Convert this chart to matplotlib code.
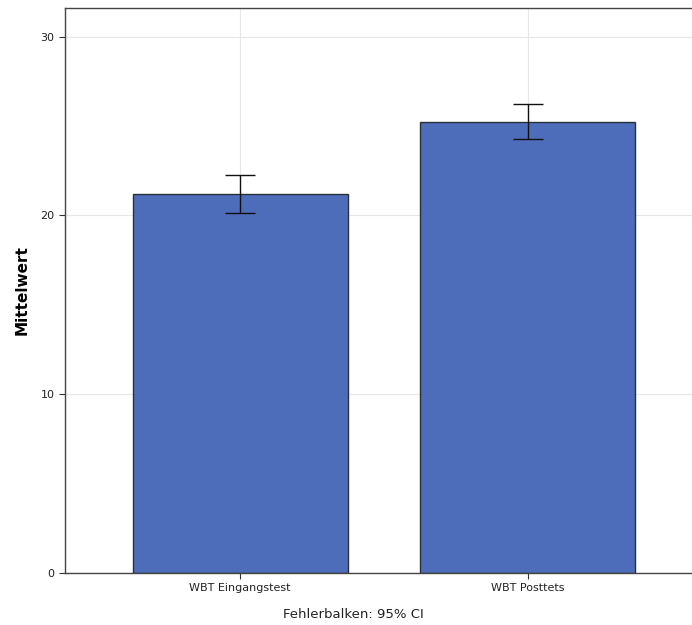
import matplotlib
matplotlib.use("Agg")
import matplotlib.pyplot as plt

categories = ["WBT Eingangstest", "WBT Posttets"]
means = [21.2, 25.25]
ci_low = [20.14, 24.29]
ci_high = [22.27, 26.24]

fig = plt.figure(figsize=(6.92, 6.25), dpi=100)
ax = fig.add_axes([65 / 692, 1 - 573 / 625, 1 - 65 / 692 + 0.001, 565 / 625])

pos = [1, 2]
yerr = [[m - lo for m, lo in zip(means, ci_low)], [hi - m for m, hi in zip(means, ci_high)]]
ax.bar(pos, means, width=0.75, color="#4d6cb9", edgecolor="#2a2f3a", linewidth=1.0, zorder=2)
ax.errorbar(pos, means, yerr=yerr, fmt="none", ecolor="#111111", elinewidth=1.0,
            capsize=10.5, capthick=1.0, zorder=3)

ax.set_xlim(0.39, 2.575)
ax.set_ylim(0, 31.6)
ax.set_yticks([0, 10, 20, 30])
ax.set_xticks(pos)
ax.set_xticklabels(categories)
ax.tick_params(axis="both", labelsize=8, length=4, width=0.8, colors="#333333", labelcolor="#222222")
ax.grid(True, color="#e6e6e6", linewidth=0.8, zorder=0)
ax.set_axisbelow(True)
for s in ["left", "bottom", "top"]:
    ax.spines[s].set_color("#444444")
    ax.spines[s].set_linewidth(1.0)
ax.spines["right"].set_visible(False)

ax.set_ylabel("Mittelwert", fontsize=11, fontweight="bold", labelpad=8)
fig.text(353 / 692, 1 - 615 / 625, "Fehlerbalken: 95% CI", ha="center", va="center", fontsize=9.5, color="#222222")

fig.savefig("out.png", dpi=100)
